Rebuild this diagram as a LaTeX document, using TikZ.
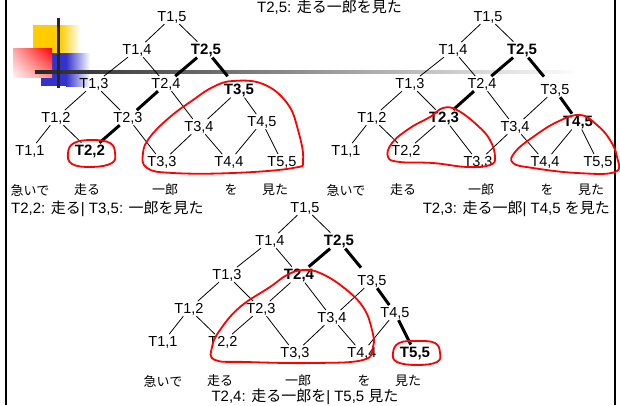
\documentclass[tikz,border=0pt]{standalone}
\usepackage{fontspec}
\usetikzlibrary{shadings}
\setmainfont{Liberation Sans}
\newfontfamily\jp{Noto Sans CJK JP}
\definecolor{py}{HTML}{FFCC00}
\definecolor{pb}{HTML}{3333CC}
\tikzset{
  lbl/.style={font=\fontsize{14.5}{14.5}\selectfont, inner sep=1pt},
  bn/.style={font=\fontsize{15}{15}\selectfont\bfseries},
  edge/.style={line width=0.8pt, shorten >=1pt},
  bedge/.style={line width=3pt},
  word/.style={font=\jp\fontsize{13}{13}\selectfont, inner sep=0pt},
  captxt/.style={font=\fontsize{15}{15}\selectfont, inner sep=0pt},
  redmark/.style={red, line width=1.8pt, line join=round},
}
\newcommand\cktree[3]{%
\begin{scope}[shift={#2}, name prefix=#1-, #3]
  \node[lbl,s15/.try] (15) at (0,0) {T1,5};
  \node[lbl,s14/.try] (14) at (-35,33) {T1,4};
  \node[lbl,s25/.try] (25) at (34,33) {T2,5};
  \node[lbl,s13/.try] (13) at (-78,67) {T1,3};
  \node[lbl,s24/.try] (24) at (-6,67) {T2,4};
  \node[lbl,s35/.try] (35) at (67,73) {T3,5};
  \node[lbl,s12/.try] (12) at (-116,101) {T1,2};
  \node[lbl,s23/.try] (23) at (-44,101) {T2,3};
  \node[lbl,s34/.try] (34) at (27,110) {T3,4};
  \node[lbl,s45/.try] (45) at (90,105) {T4,5};
  \node[lbl,s11/.try] (11) at (-142,134) {T1,1};
  \node[lbl,s22/.try] (22) at (-82,134) {T2,2};
  \node[lbl,s33/.try] (33) at (-10,145) {T3,3};
  \node[lbl,s44/.try] (44) at (57,145) {T4,4};
  \node[lbl,s55/.try] (55) at (110,145) {T5,5};
  \draw[edge,e1514/.try] (15) -- (14);
  \draw[edge,e1525/.try] (15) -- (25);
  \draw[edge,e1413/.try] (14) -- (13);
  \draw[edge,e1424/.try] (14) -- (24);
  \draw[edge,e2524/.try] (25) -- (24);
  \draw[edge,e2535/.try,shorten >=8pt] (25) -- (35);
  \draw[edge,e1312/.try] (13) -- (12);
  \draw[edge,e1323/.try] (13) -- (23);
  \draw[edge,e2423/.try] (24) -- (23);
  \draw[edge,e2434/.try] (24) -- (34);
  \draw[edge,e3534/.try] (35) -- (34);
  \draw[edge,e3545/.try] (35) -- (45);
  \draw[edge,e1211/.try] (12) -- (11);
  \draw[edge,e1222/.try] (12) -- (22);
  \draw[edge,e2322/.try] (23) -- (22);
  \draw[edge,e2333/.try] (23) -- (33);
  \draw[edge,e3433/.try] (34) -- (33);
  \draw[edge,e3444/.try] (34) -- (44);
  \draw[edge,e4544/.try] (45) -- (44);
  \draw[edge,e4555/.try] (45) -- (55);
  \node[word] (w1) at (-142,173) {急いで};
  \node[word] (w2) at (-85,173) {走る};
  \node[word] (w3) at (-7,173) {一郎};
  \node[word] (w4) at (59,173) {を};
  \node[word] (w5) at (103,173) {見た};
\end{scope}}
\begin{document}
\begin{tikzpicture}[x=1pt,y=-1pt]
\useasboundingbox (0,0) rectangle (620,405);
% logo
\fill[py] (33,25) rectangle (60,53);
\shade[left color=py, right color=white] (60,25) rectangle (80,53);
\fill[pb] (41,53) rectangle (66,86);
\shade[left color=pb, right color=white] (66,53) rectangle (90,86);
\shade[upper right=red, upper left=red!35, lower right=red!45, lower left=red!5] (13,48) rectangle (52,77);
\shade[left color=black!85, right color=white] (35,70.5) rectangle (580,73.5);
\draw[line width=3pt, black!85] (58,18) -- (58,88);
% frame
\draw[line width=2.5pt] (6,0) -- (6,405);
\draw[line width=2pt] (615,0) -- (615,405);
% trees
\cktree{a}{(172,17)}{s25/.style=bn, s35/.style=bn, s22/.style=bn,
  e2524/.style=bedge, e2535/.style=bedge, e2423/.style=bedge, e2322/.style=bedge}
\cktree{b}{(488,17)}{s25/.style=bn, s23/.style=bn, s45/.style=bn,
  e2524/.style=bedge, e2535/.style=bedge, e2423/.style=bedge, e3545/.style=bedge}
\cktree{c}{(305,208)}{s25/.style=bn, s24/.style=bn, s55/.style=bn,
  e2524/.style=bedge, e2535/.style=bedge, e3545/.style=bedge, e4555/.style=bedge}
% captions
\node[captxt, anchor=west] (c0) at (257,7.5) {T2,5: {\jp 走る一郎を見た}};
\node[captxt, anchor=west] (c1) at (11,209) {T2,2: {\jp 走る}| T3,5: {\jp 一郎を見た}};
\node[captxt, anchor=east] (c2) at (610,209) {T2,3: {\jp 走る一郎}| T4,5 {\jp を見た}};
\node[captxt] (c3) at (305,397) {T2,4: {\jp 走る一郎を}| T5,5 {\jp 見た}};
% red hand-drawn marks
\draw[redmark] plot[smooth cycle, tension=0.7] coordinates {(92,140) (110,143) (115,153) (112,163) (92,167) (72,164) (68,153) (74,143)};
\draw[redmark] plot[smooth cycle, tension=0.7] coordinates {(233,81) (263,84) (287,103) (298,130) (303,160) (293,168) (233,173) (173,173) (147,168) (143,153) (150,137) (170,117) (193,100) (213,87)};
\draw[redmark] plot[smooth cycle, tension=0.7] coordinates {(443,108) (457,110) (477,125) (490,140) (495,157) (490,165) (467,167) (433,163) (400,162) (388,157) (392,143) (410,128) (430,117)};
\draw[redmark] plot[smooth cycle, tension=0.7] coordinates {(580,115) (597,125) (610,140) (617,157) (615,172) (577,173) (533,168) (513,163) (515,152) (533,137) (557,122)};
\draw[redmark] plot[smooth cycle, tension=0.7] coordinates {(303,270) (320,273) (343,287) (363,307) (372,330) (373,347) (363,360) (313,363) (247,362) (215,360) (212,347) (220,330) (240,307) (270,287) (287,275)};
\draw[redmark] plot[smooth cycle, tension=0.7] coordinates {(417,341) (435,343) (440,353) (437,362) (417,365) (397,362) (393,353) (399,343)};
\end{tikzpicture}
\end{document}
